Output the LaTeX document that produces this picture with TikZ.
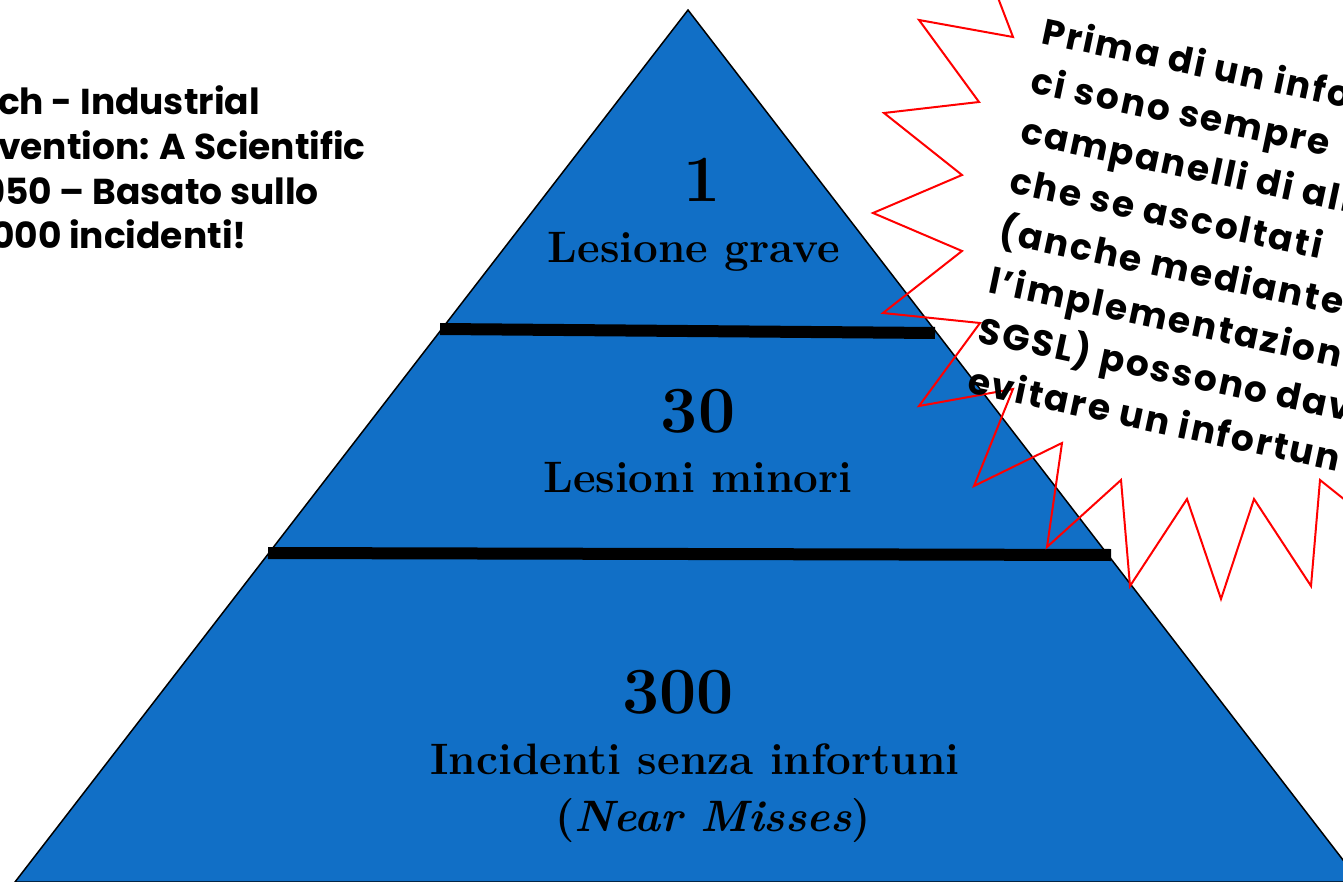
\documentclass[tikz,border=0pt]{standalone}
\usepackage{fontspec}
\newfontfamily\comicfont{Poppins}
\newfontfamily\burstfont{Poppins}[LetterSpace=6]
\usetikzlibrary{positioning}
\definecolor{pyrblue}{RGB}{17,111,198}
\definecolor{alarmred}{RGB}{255,0,0}

\tikzset{
  layerbar/.style={line width=12pt, black},
  count/.style={anchor=base, inner sep=0pt, font=\bfseries\fontsize{66}{66}\selectfont},
  tier/.style={anchor=base, inner sep=0pt, font=\bfseries\fontsize{44}{44}\selectfont},
  note/.style={anchor=base west, inner sep=0pt, font=\comicfont\bfseries\fontsize{36}{36}\selectfont},
  burstnote/.style={anchor=base west, inner sep=0pt, rotate=-12,
    font=\burstfont\bfseries\fontsize{36}{36}\selectfont},
  burst/.style={draw=alarmred, line width=2pt, line join=miter}
}

\begin{document}
\begin{tikzpicture}[x=1pt, y=-1pt]
  \path[use as bounding box] (0,0) rectangle (1343,882);
  \clip (0,0) rectangle (1343,882);
  \fill[white] (0,0) rectangle (1343,882);

  % pyramid
  \coordinate (apex) at (688,10);
  \coordinate (bl) at (15,882);
  \coordinate (br) at (1360,882);
  \filldraw[fill=pyrblue, draw=black, line width=1.5pt] (apex) -- (br) -- (bl) -- cycle;

  % separators
  \coordinate (s1l) at (440,329);
  \coordinate (s1r) at (935,333);
  \coordinate (s2l) at (268,553);
  \coordinate (s2r) at (1111,555);
  \draw[layerbar] (s1l) -- (s1r);
  \draw[layerbar] (s2l) -- (s2r);

  % tiers
  \node[count] (n1) at (702,202) {1};
  \node[tier] (t1) at (694,263) {Lesione grave};
  \node[count] (n30) at (698,432) {30};
  \node[tier] (t30) at (698,492) {Lesioni minori};
  \node[count] (n300) at (678,713) {300};
  \node[tier] (t300) at (695,774) {Incidenti senza infortuni};
  \node[tier] (nm) at (713,831) {(\textit{Near Misses})};

  % source note, cut at the left
  \node[note] (h1) at (-2,115) {ch - Industrial};
  \node[note] (h2) at (-2,160) {vention: A Scientific};
  \node[note] (h3) at (-17,205) {950 – Basato sullo};
  \node[note] (h4) at (-9,249) {000 incidenti!};

  % alarm burst
  \draw[burst] (995,-10) -- (1013,37) -- (919,20) -- (979,102) -- (884,113)
    -- (962,175) -- (873,213) -- (962,251) -- (883,313) -- (980,323)
    -- (919,406) -- (1013,389) -- (974,486) -- (1062,443) -- (1047,547)
    -- (1121,480) -- (1130,586) -- (1187,499) -- (1221,599) -- (1254,499)
    -- (1311,586) -- (1320,480) -- (1360,512);

  \foreach \txt [count=\i from 0] in {{Prima di un info}, {ci sono sempre},
      {campanelli di alla}, {che se ascoltati}, {(anche mediante},
      {l’implementazione}, {SGSL) possono dav}, {evitare un infortun}}
    \node[burstnote] (c\i) at ({1040-10.6*\i},{43+49.9*\i}) {\txt};
\end{tikzpicture}
\end{document}
